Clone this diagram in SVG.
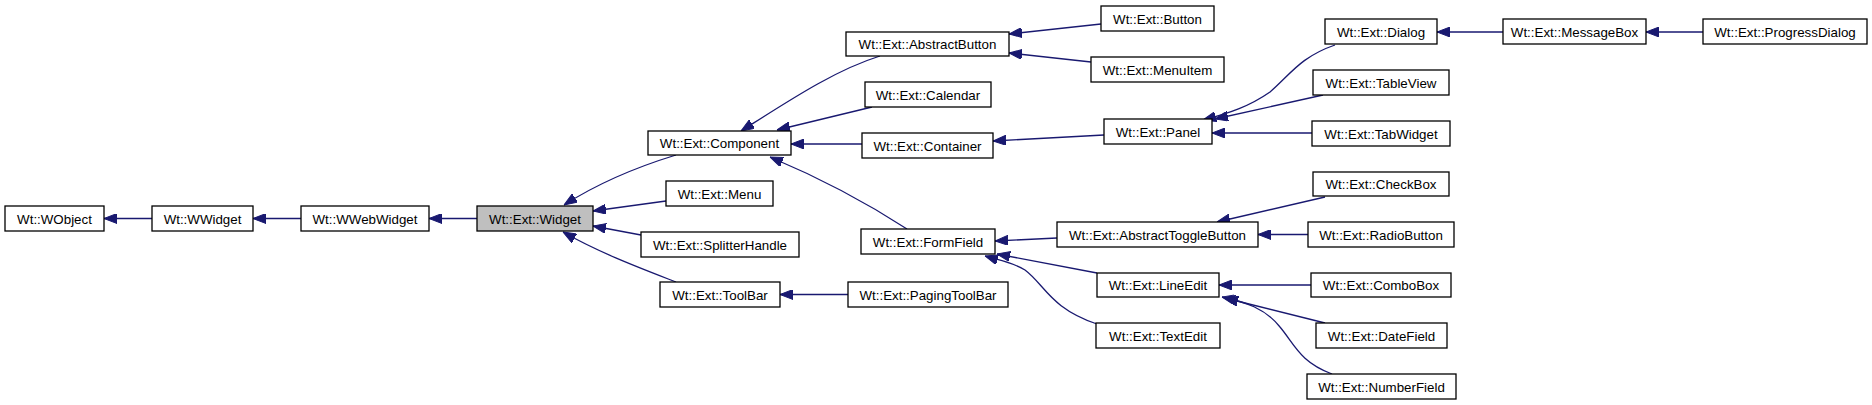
<svg xmlns="http://www.w3.org/2000/svg" width="1872" height="405" viewBox="0 0 1872 405">
<defs>
<style>
.n rect{fill:#fff;stroke:#000;stroke-width:1.3}
.n.cur rect{fill:#bfbfbf}
.n text{font-family:"Liberation Sans",Arial,sans-serif;font-size:13.33px;fill:#000;text-anchor:middle}
#edges path{fill:none;stroke:#191970;stroke-width:1.3;marker-end:url(#arr)}
</style>
<marker id="arr" viewBox="0 0 13 10" refX="13" refY="5" markerWidth="13" markerHeight="10" orient="auto" markerUnits="userSpaceOnUse">
<path d="M0,0 L13,5 L0,10 z" fill="#191970" stroke="#191970" stroke-width="1"/>
</marker>
</defs>
<rect width="1872" height="405" fill="#fff"/>
<g id="edges">
<path d="M152,218.5 L104,218.5"/>
<path d="M301,218.5 L253,218.5"/>
<path d="M477,218.5 L429,218.5"/>
<path d="M676,155 C640,166 600,182 564,205"/>
<path d="M666,201 L593,211"/>
<path d="M641,235 L593,226"/>
<path d="M676,282 C640,268 600,253 563,232"/>
<path d="M880,56 C835,70 790,100 741,131"/>
<path d="M872,107 L777,130"/>
<path d="M862,144 L791,144"/>
<path d="M907,229 C870,205 820,178 770,157"/>
<path d="M848,294.5 L780,294.5"/>
<path d="M1101,24 L1009,34"/>
<path d="M1091,62 L1009,53"/>
<path d="M1104,135 L993,141"/>
<path d="M1057,238 L995,241"/>
<path d="M1097,273 L997,254"/>
<path d="M1097,324 C1050,308 1045,285 1025,270 C1012,262 998,260 985,256"/>
<path d="M1335,45 C1300,57 1290,75 1270,92 C1250,106 1230,113 1203,120"/>
<path d="M1323,95 L1215,119"/>
<path d="M1312,133 L1212,133"/>
<path d="M1325,197 L1217,222"/>
<path d="M1308,234.5 L1258,234.5"/>
<path d="M1311,285 L1219,285"/>
<path d="M1325,323 L1225,298"/>
<path d="M1332,374 C1300,362 1295,345 1280,327 C1265,308 1245,302 1222,297"/>
<path d="M1503,32 L1437,32"/>
<path d="M1703,32 L1646,32"/>
</g>
<g id="WObject" class="n"><rect x="5" y="206" width="99" height="25"/><text x="54.5" y="223.5">Wt::WObject</text></g>
<g id="WWidget" class="n"><rect x="152" y="206" width="101" height="25"/><text x="202.5" y="223.5">Wt::WWidget</text></g>
<g id="WWebWidget" class="n"><rect x="301" y="206" width="128" height="25"/><text x="365" y="223.5">Wt::WWebWidget</text></g>
<g id="Widget" class="n cur"><rect x="477" y="206" width="116" height="25"/><text x="535" y="223.5">Wt::Ext::Widget</text></g>
<g id="Component" class="n"><rect x="648" y="131" width="143" height="24"/><text x="719.5" y="148">Wt::Ext::Component</text></g>
<g id="Menu" class="n"><rect x="666" y="181" width="107" height="25"/><text x="719.5" y="198.5">Wt::Ext::Menu</text></g>
<g id="SplitterHandle" class="n"><rect x="641" y="232" width="158" height="25"/><text x="720" y="249.5">Wt::Ext::SplitterHandle</text></g>
<g id="ToolBar" class="n"><rect x="660" y="282" width="120" height="25"/><text x="720" y="299.5">Wt::Ext::ToolBar</text></g>
<g id="AbstractButton" class="n"><rect x="846" y="32" width="163" height="24"/><text x="927.5" y="49">Wt::Ext::AbstractButton</text></g>
<g id="Calendar" class="n"><rect x="865" y="82" width="126" height="25"/><text x="928" y="99.5">Wt::Ext::Calendar</text></g>
<g id="Container" class="n"><rect x="862" y="133" width="131" height="25"/><text x="927.5" y="150.5">Wt::Ext::Container</text></g>
<g id="FormField" class="n"><rect x="861" y="229" width="134" height="25"/><text x="928" y="246.5">Wt::Ext::FormField</text></g>
<g id="PagingToolBar" class="n"><rect x="848" y="282" width="160" height="25"/><text x="928" y="299.5">Wt::Ext::PagingToolBar</text></g>
<g id="Button" class="n"><rect x="1101" y="6" width="113" height="25"/><text x="1157.5" y="23.5">Wt::Ext::Button</text></g>
<g id="MenuItem" class="n"><rect x="1091" y="57" width="133" height="25"/><text x="1157.5" y="74.5">Wt::Ext::MenuItem</text></g>
<g id="Panel" class="n"><rect x="1104" y="119" width="108" height="25"/><text x="1158" y="136.5">Wt::Ext::Panel</text></g>
<g id="AbstractToggleButton" class="n"><rect x="1057" y="222" width="201" height="25"/><text x="1157.5" y="239.5">Wt::Ext::AbstractToggleButton</text></g>
<g id="LineEdit" class="n"><rect x="1097" y="273" width="122" height="24"/><text x="1158" y="290">Wt::Ext::LineEdit</text></g>
<g id="TextEdit" class="n"><rect x="1096" y="323" width="124" height="25"/><text x="1158" y="340.5">Wt::Ext::TextEdit</text></g>
<g id="Dialog" class="n"><rect x="1325" y="19" width="112" height="25"/><text x="1381" y="36.5">Wt::Ext::Dialog</text></g>
<g id="TableView" class="n"><rect x="1313" y="70" width="136" height="25"/><text x="1381" y="87.5">Wt::Ext::TableView</text></g>
<g id="TabWidget" class="n"><rect x="1312" y="121" width="138" height="25"/><text x="1381" y="138.5">Wt::Ext::TabWidget</text></g>
<g id="CheckBox" class="n"><rect x="1313" y="172" width="136" height="24"/><text x="1381" y="189">Wt::Ext::CheckBox</text></g>
<g id="RadioButton" class="n"><rect x="1308" y="222" width="146" height="25"/><text x="1381" y="239.5">Wt::Ext::RadioButton</text></g>
<g id="ComboBox" class="n"><rect x="1311" y="273" width="140" height="24"/><text x="1381" y="290">Wt::Ext::ComboBox</text></g>
<g id="DateField" class="n"><rect x="1316" y="323" width="131" height="25"/><text x="1381.5" y="340.5">Wt::Ext::DateField</text></g>
<g id="NumberField" class="n"><rect x="1307" y="374" width="149" height="25"/><text x="1381.5" y="391.5">Wt::Ext::NumberField</text></g>
<g id="MessageBox" class="n"><rect x="1503" y="19" width="143" height="25"/><text x="1574.5" y="36.5">Wt::Ext::MessageBox</text></g>
<g id="ProgressDialog" class="n"><rect x="1703" y="19" width="164" height="25"/><text x="1785" y="36.5">Wt::Ext::ProgressDialog</text></g>
</svg>
